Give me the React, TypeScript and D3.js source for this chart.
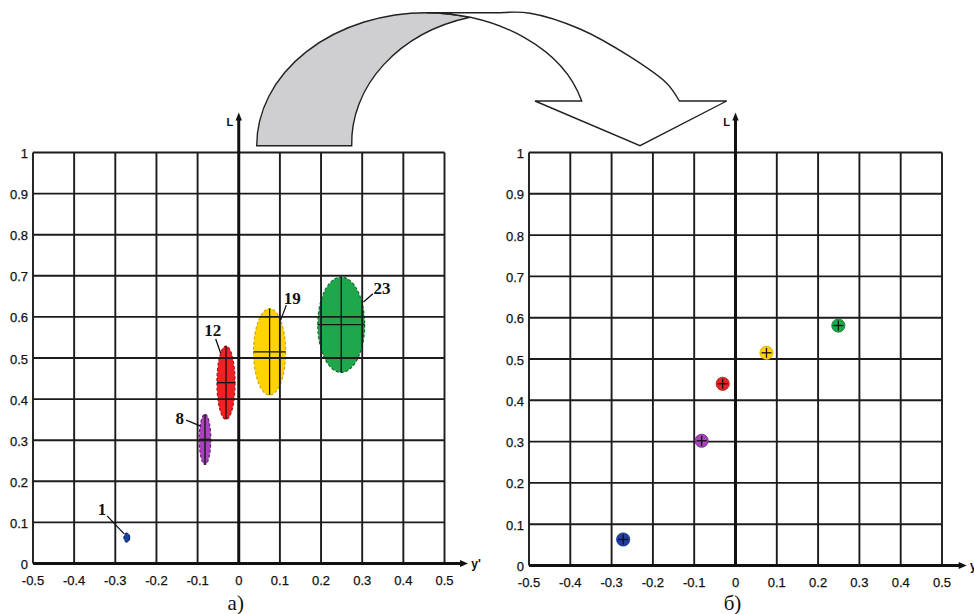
import React from 'react';
import * as d3 from 'd3';

// ---- data ----
const sampleIds = ['1', '8', '12', '19', '23'];
const yPrimeValues = [-0.272, -0.082, -0.031, 0.075, 0.249];
const lValues = [0.063, 0.302, 0.44, 0.515, 0.581];
const yPrimeSpread = [0.007, 0.014, 0.022, 0.039, 0.057];
const lSpread = [0.011, 0.061, 0.089, 0.105, 0.116];
const xTicks = [-0.5, -0.4, -0.3, -0.2, -0.1, 0, 0.1, 0.2, 0.3, 0.4, 0.5];
const xTickLabels = ['-0.5', '-0.4', '-0.3', '-0.2', '-0.1', '0', '0.1', '0.2', '0.3', '0.4', '0.5'];
const yTicks = [0, 0.1, 0.2, 0.3, 0.4, 0.5, 0.6, 0.7, 0.8, 0.9, 1];
const yTickLabels = ['0', '0.1', '0.2', '0.3', '0.4', '0.5', '0.6', '0.7', '0.8', '0.9', '1'];

// ---- styling / layout ----
const fillColors = ['#1d3f9e', '#a545b8', '#ee2125', '#ffd400', '#1fa84b'];
const edgeColors = ['#0f2a78', '#6e2080', '#b50f14', '#d6a600', '#0e6e2c'];
// label placement relative to ellipse centre (px): [textDx, textDy, lineX1, lineY1, lineX2, lineY2]
const labelLayout = [
  [-24.7, -27.7, -19.7, -21.7, -2.7, -3.7],
  [-25.3, -21.3, -18.8, -19.3, -4.3, -13.3],
  [-13.3, -51.7, -10.3, -43.7, -5.3, -29.4],
  [22.7, -53.4, 16.7, -46.7, 11, -31.7],
  [40.7, -36, 31.7, -31, 22.3, -22.6],
];

const GRID = '#1c1c1c';
const TICK_FONT = "'Liberation Sans Narrow', 'Arial Narrow', 'Liberation Sans', Arial, sans-serif";

type PanelProps = {
  x0: number; x1: number; yTop: number; yBottom: number;
  arrowX: number; caption: string; ellipses: boolean;
};

function Panel({ x0, x1, yTop, yBottom, arrowX, caption, ellipses }: PanelProps) {
  const x = d3.scaleLinear().domain([-0.5, 0.5]).range([x0, x1]);
  const y = d3.scaleLinear().domain([0, 1]).range([yBottom, yTop]);
  const zx = x(0);
  const yAxisTop = yTop - 40;
  return (
    <g>
      {ellipses
        ? sampleIds.map((id, i) => {
            const cx = x(yPrimeValues[i]);
            const cy = y(lValues[i]);
            const rx = x(yPrimeSpread[i]) - x(0);
            const ry = y(0) - y(lSpread[i]);
            return (
              <g key={id}>
                <ellipse cx={cx} cy={cy} rx={rx} ry={ry} fill={fillColors[i]}
                  stroke={edgeColors[i]} strokeWidth={1.2} strokeDasharray="3,2" />
                {i > 0 && (
                  <g stroke="#111" strokeWidth={1.3}>
                    <line x1={cx} x2={cx} y1={cy - ry} y2={cy + ry} />
                    <line x1={cx - rx} x2={cx + rx} y1={cy} y2={cy} />
                  </g>
                )}
              </g>
            );
          })
        : null}

      <g stroke={GRID} strokeWidth={1.9}>
        {xTicks.map((t) => (
          t === 0 ? null : <line key={'gx' + t} x1={x(t)} x2={x(t)} y1={yTop} y2={yBottom} />
        ))}
        {yTicks.map((t) => (
          t === 0 ? null : <line key={'gy' + t} x1={x0} x2={x1} y1={y(t)} y2={y(t)} />
        ))}
      </g>

      <line x1={x0} x2={arrowX - 6} y1={yBottom} y2={yBottom} stroke="#111" strokeWidth={3.2} />
      <path d={`M${arrowX},${yBottom} L${arrowX - 8},${yBottom - 3.5} L${arrowX - 8},${yBottom + 3.5} Z`} fill="#111" />
      <line x1={zx} x2={zx} y1={yBottom + 1.5} y2={yAxisTop + 6} stroke="#111" strokeWidth={3} />
      <path d={`M${zx},${yAxisTop} L${zx - 3.2},${yAxisTop + 8} L${zx + 3.2},${yAxisTop + 8} Z`} fill="#111" />
      <text x={zx - 9} y={yAxisTop + 9} fontFamily="'Liberation Sans', Arial, sans-serif" fontWeight="bold"
        fontSize={11} textAnchor="middle" dominantBaseline="central" fill="#111">L</text>
      <text x={arrowX + 8} y={yBottom} fontFamily="'Liberation Sans', Arial, sans-serif" fontWeight="bold"
        fontSize={12} textAnchor="middle" dominantBaseline="central" fill="#111">y'</text>

      <g fontFamily={TICK_FONT} fontSize={13} fill="#111" stroke="#111" strokeWidth={0.25}>
        {xTicks.map((t, i) => (
          <text key={'tx' + t} x={x(t)} y={yBottom + 17} textAnchor="middle" dominantBaseline="central">{xTickLabels[i]}</text>
        ))}
        {yTicks.map((t, i) => (
          <text key={'ty' + t} x={x0 - 5} y={y(t) + 1} textAnchor="end" dominantBaseline="central">{yTickLabels[i]}</text>
        ))}
      </g>

      {!ellipses
        ? sampleIds.map((id, i) => {
            const cx = x(yPrimeValues[i]);
            const cy = y(lValues[i]);
            return (
              <g key={'p' + id}>
                <circle cx={cx} cy={cy} r={6.6} fill={fillColors[i]} stroke={edgeColors[i]} strokeWidth={0.8} />
                <g stroke="#111" strokeWidth={1.3}>
                  <line x1={cx} x2={cx} y1={cy - 5} y2={cy + 5} />
                  <line x1={cx - 5} x2={cx + 5} y1={cy} y2={cy} />
                </g>
              </g>
            );
          })
        : sampleIds.map((id, i) => {
            const cx = x(yPrimeValues[i]);
            const cy = y(lValues[i]);
            const L = labelLayout[i];
            return (
              <g key={'lab' + id}>
                <line x1={cx + L[2]} y1={cy + L[3]} x2={cx + L[4]} y2={cy + L[5]} stroke="#111" strokeWidth={1.3} />
                <text x={cx + L[0]} y={cy + L[1]} fontFamily="'Liberation Serif', 'Times New Roman', serif"
                  fontWeight="bold" fontSize={17} textAnchor="middle" dominantBaseline="central" fill="#111">{id}</text>
              </g>
            );
          })}

      <text x={zx - 3} y={610} fontFamily="'Liberation Serif', 'Times New Roman', serif" fontSize={21}
        textAnchor="middle" fill="#111">{caption}</text>
    </g>
  );
}

const smooth = (pts: [number, number][]) =>
  (d3.line().curve(d3.curveCatmullRom.alpha(0.5))(pts) as string);

function CurvedArrow() {
  const rightOuter: [number, number][] = [
    [500, 12.7], [530, 13.2], [580, 29], [630, 56.7], [666.7, 83.3], [679.3, 101],
  ];
  const gray =
    'M256.7,145.7 A170,133 0 0 1 426.7,12.7 A162,117.3 0 0 1 470,17.3 A158.3,130 0 0 0 351.7,145.7 Z';
  const white =
    'M426.7,12.7 L500,12.7' + smooth(rightOuter).replace(/^M[^L C]*/, '') +
    'L726.7,101 L640,145.7 L535,101 L581.7,101 A162,117.3 0 0 0 426.7,12.7 Z';
  return (
    <g stroke="#222" strokeWidth={1.4} strokeLinejoin="miter">
      <path d={gray} fill="#cfcfd2" />
      <path d={white} fill="#ffffff" />
    </g>
  );
}

export default function App() {
  return (
    <svg width={974} height={614} style={{ position: 'absolute', left: 0, top: 0, background: '#fff' }}>
      <rect width={974} height={614} fill="#fff" />
      <CurvedArrow />
      <Panel x0={33} x1={444.5} yTop={152.5} yBottom={563.5} arrowX={468} caption="а)" ellipses={true} />
      <Panel x0={529} x1={942} yTop={152.5} yBottom={565.5} arrowX={966.7} caption="б)" ellipses={false} />
    </svg>
  );
}
